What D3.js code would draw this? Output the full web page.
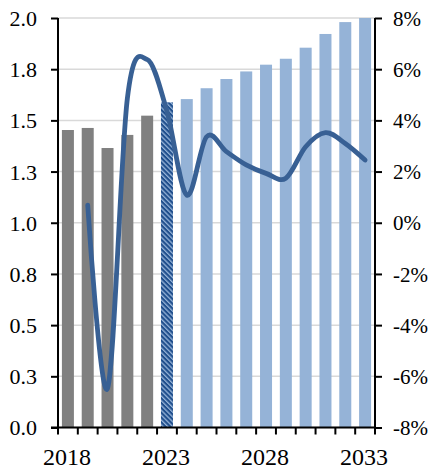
<!DOCTYPE html>
<html>
<head>
<meta charset="utf-8">
<script src="https://cdn.jsdelivr.net/npm/d3@7/dist/d3.min.js"></script>
<style>
  html, body { margin: 0; padding: 0; background: #fff; }
  svg { display: block; }
</style>
</head>
<body>
<svg id="chart" width="432" height="469"></svg>
<script>
// Years on the category axis
const years = [2018, 2019, 2020, 2021, 2022, 2023, 2024, 2025, 2026, 2027, 2028, 2029, 2030, 2031, 2032, 2033];
// Bar series (left axis): actuals, estimate year, projections
const barValues = [1.453, 1.463, 1.365, 1.429, 1.523, 1.588, 1.604, 1.657, 1.702, 1.739, 1.772, 1.801, 1.855, 1.922, 1.980, 2.0];
const barKind = ["actual", "actual", "actual", "actual", "actual", "estimate",
  "projection", "projection", "projection", "projection", "projection",
  "projection", "projection", "projection", "projection", "projection"];
// Growth rate line (right axis, %), starting 2019
const growthYears = [2019, 2020, 2021, 2022, 2023, 2024, 2025, 2026, 2027, 2028, 2029, 2030, 2031, 2032, 2033];
const growthValues = [0.69, -6.47, 4.85, 6.38, 4.35, 1.08, 3.36, 2.78, 2.26, 1.93, 1.74, 2.97, 3.52, 3.10, 2.45];
// Tick labels
const leftTicks = [0, 0.25, 0.5, 0.75, 1.0, 1.25, 1.5, 1.75, 2.0];
const rightTicks = [-8, -6, -4, -2, 0, 2, 4, 6, 8];
const xLabelYears = [2018, 2023, 2028, 2033];

const FONT = "'Liberation Serif', 'Times New Roman', serif";
const svg = d3.select("#chart");
const plotLeft = 58, plotRight = 375, plotTop = 18, plotBottom = 427.5;

const x = d3.scaleBand().domain(years).range([plotLeft, plotRight]).paddingInner(0.394).paddingOuter(0.197);
const yL = d3.scaleLinear().domain([0, 2]).range([plotBottom, plotTop]);
const yR = d3.scaleLinear().domain([-8, 8]).range([plotBottom, plotTop]);

// Diagonal hatch for the estimate year
const defs = svg.append("defs");
const pat = defs.append("pattern")
  .attr("id", "hatch").attr("patternUnits", "userSpaceOnUse")
  .attr("width", 3.4).attr("height", 3.4)
  .attr("patternTransform", "rotate(45)");
pat.append("rect").attr("width", 3.4).attr("height", 3.4).attr("fill", "#95b3d7");
pat.append("rect").attr("width", 3.4).attr("height", 2.1).attr("fill", "#1f4e8c");

// Gridlines
svg.append("g").selectAll("line").data(leftTicks).join("line")
  .attr("x1", plotLeft).attr("x2", plotRight)
  .attr("y1", d => yL(d)).attr("y2", d => yL(d))
  .attr("stroke", "#d9d9d9").attr("stroke-width", 1.5);

// Bars
const fills = { actual: "#808080", estimate: "url(#hatch)", projection: "#95b3d7" };
svg.append("g").selectAll("rect").data(years).join("rect")
  .attr("x", d => x(d))
  .attr("width", x.bandwidth())
  .attr("y", (d, i) => yL(barValues[i]))
  .attr("height", (d, i) => yL(0) - yL(barValues[i]))
  .attr("fill", (d, i) => fills[barKind[i]]);

// Growth line
const line = d3.line()
  .x((d, i) => x(growthYears[i]) + x.bandwidth() / 2)
  .y(d => yR(d))
  .curve(d3.curveCardinal.tension(0));
svg.append("path").datum(growthValues)
  .attr("d", line)
  .attr("fill", "none")
  .attr("stroke", "#386094")
  .attr("stroke-width", 4.8)
  .attr("stroke-linecap", "round")
  .attr("stroke-linejoin", "round");

// Left axis
const axL = svg.append("g").attr("transform", `translate(${plotLeft},0)`)
  .call(d3.axisLeft(yL).tickValues(leftTicks).tickSize(7).tickFormat(d3.format(".1f")));
axL.select(".domain").attr("stroke", "#000").attr("stroke-width", 2).attr("d", `M0,${plotTop}V${plotBottom}`);
axL.selectAll(".tick line").attr("stroke", "#000").attr("stroke-width", 2);
axL.selectAll(".tick text")
  .style("font-family", FONT).style("font-size", "22px").attr("fill", "#000")
  .attr("x", -21).attr("dy", "0.34em");

// Right axis
const axR = svg.append("g").attr("transform", `translate(${plotRight},0)`)
  .call(d3.axisRight(yR).tickValues(rightTicks).tickSize(7).tickFormat(d => d + "%"));
axR.select(".domain").attr("stroke", "#000").attr("stroke-width", 2).attr("d", `M0,${plotTop}V${plotBottom}`);
axR.selectAll(".tick line").attr("stroke", "#000").attr("stroke-width", 2);
axR.selectAll(".tick text")
  .style("font-family", FONT).style("font-size", "21px").attr("fill", "#000")
  .attr("x", 18).attr("dy", "0.34em");

// Bottom axis: ticks at category boundaries
const step = x.step();
const gap = (step - x.bandwidth()) / 2;
const edges = years.map(d => x(d) - gap).concat([x(years[years.length - 1]) + x.bandwidth() + gap]);
const axB = svg.append("g");
axB.append("line").attr("x1", plotLeft - 7).attr("x2", plotRight).attr("y1", plotBottom).attr("y2", plotBottom)
  .attr("stroke", "#000").attr("stroke-width", 2);
axB.selectAll("line.tk").data(edges).join("line").attr("class", "tk")
  .attr("x1", d => d).attr("x2", d => d).attr("y1", plotBottom).attr("y2", plotBottom + 7)
  .attr("stroke", "#000").attr("stroke-width", 2);
axB.selectAll("text").data(xLabelYears).join("text")
  .attr("x", d => x(d) + x.bandwidth() / 2 - 1)
  .attr("y", 465)
  .attr("text-anchor", "middle")
  .style("font-family", FONT).style("font-size", "24px").attr("fill", "#000")
  .text(d => d);
</script>
</body>
</html>
